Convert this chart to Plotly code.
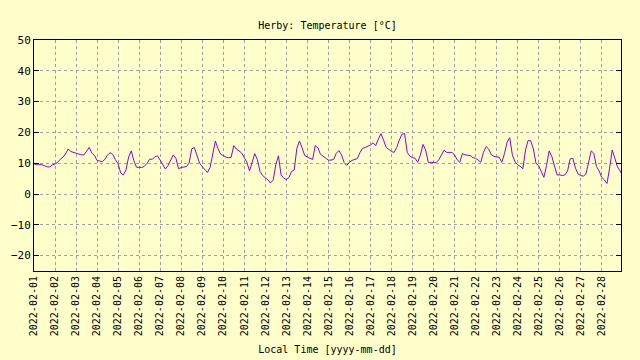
import pandas as pd
import plotly.graph_objects as go

title_text = "Herby: Temperature [°C]"
x_title = "Local Time [yyyy-mm-dd]"
start_time = "2022-02-01 00:00"
step = "3h"

# 3-hourly readings (00,03,...,21h) per day
temps = [
    9.8, 9.5, 9.5, 9.5, 9.2, 8.8, 8.8, 9.5,        # 02-01
    9.7, 10.3, 11.3, 11.9, 13.0, 14.6, 13.8, 13.5,  # 02-02
    13.2, 13.1, 12.7, 12.7, 14.0, 15.1, 13.3, 12.5, # 02-03
    10.9, 10.8, 10.5, 11.3, 12.7, 13.4, 12.8, 11.1, # 02-04
    9.8, 6.8, 6.2, 7.8, 12.0, 14.0, 10.8, 8.7,      # 02-05
    8.6, 8.6, 9.0, 9.9, 11.3, 11.3, 12.0, 12.4,     # 02-06
    11.0, 9.5, 8.1, 9.2, 11.2, 12.7, 11.6, 8.2,     # 02-07
    8.6, 8.7, 8.9, 10.0, 14.6, 15.1, 12.2, 10.0,    # 02-08
    8.9, 7.8, 7.0, 8.6, 12.9, 17.2, 14.8, 12.9,     # 02-09
    12.5, 12.0, 11.8, 11.9, 15.7, 14.6, 14.0, 13.3, # 02-10
    11.8, 10.3, 7.5, 10.0, 13.1, 11.1, 7.3, 6.0,    # 02-11
    5.4, 4.6, 3.6, 4.5, 9.5, 12.4, 6.2, 5.2,        # 02-12
    4.6, 5.4, 7.3, 7.8, 14.8, 17.2, 15.0, 12.5,     # 02-13
    12.0, 11.6, 11.2, 15.7, 15.0, 12.9, 12.2, 11.6, # 02-14
    11.0, 11.0, 11.2, 13.2, 14.1, 12.7, 10.2, 9.3,  # 02-15
    10.3, 10.9, 11.3, 11.5, 13.4, 14.8, 15.1, 15.5, # 02-16
    15.9, 16.6, 15.7, 17.8, 19.6, 17.5, 15.1, 14.5, # 02-17
    13.8, 13.5, 15.1, 17.5, 19.4, 19.6, 13.5, 12.3, # 02-18
    11.8, 11.6, 10.3, 12.7, 16.1, 14.3, 10.3, 10.2, # 02-19
    10.2, 10.2, 11.1, 12.9, 14.2, 13.5, 13.5, 13.5, # 02-20
    12.7, 11.1, 10.3, 13.1, 12.7, 12.5, 12.5, 11.8, # 02-21
    11.6, 11.0, 10.3, 13.5, 15.4, 14.6, 12.7, 12.2, # 02-22
    12.0, 11.9, 10.3, 13.1, 16.8, 18.3, 12.7, 10.5, # 02-23
    9.5, 9.0, 8.2, 14.3, 17.4, 17.3, 14.6, 9.9,     # 02-24
    9.2, 7.3, 5.4, 9.2, 14.0, 12.2, 8.9, 6.2,       # 02-25
    6.2, 6.0, 6.2, 7.5, 11.4, 11.6, 8.4, 6.5,       # 02-26
    6.0, 5.8, 6.5, 10.5, 14.0, 13.2, 8.9, 7.5,      # 02-27
    5.4, 4.6, 3.4, 8.4, 14.3, 11.6, 8.8, 7.5,       # 02-28
]
last_time = "2022-02-28 22:00"
last_temp = 6.8

y_ticks = [-20, -10, 0, 10, 20, 30, 40, 50]
y_range = [-25, 50]
x_range = ["2022-02-01 00:00", "2022-02-28 22:00"]

times = list(pd.date_range(start_time, periods=len(temps), freq=step)) + [pd.Timestamp(last_time)]
values = temps + [last_temp]

bg = "#ffffcc"
grid = "#a0a0a0"

fig = go.Figure()
fig.add_trace(go.Scatter(x=times, y=values, mode="lines",
                         line=dict(color="#9400d3", width=1), showlegend=False))

fig.update_layout(
    width=640, height=360,
    paper_bgcolor=bg, plot_bgcolor=bg,
    margin=dict(l=34, r=19, t=40, b=89),
    font=dict(family="DejaVu Sans Mono", size=10, color="black"),
    title=dict(text=title_text, x=0.5, xref="paper", xanchor="center",
               y=1 - 25 / 360, yref="container", yanchor="middle",
               font=dict(size=10)),
)

fig.update_xaxes(
    range=x_range, type="date", automargin=False,
    tick0="2022-02-01", dtick=86400000, tickformat="%Y-%m-%d", tickangle=-90,
    showgrid=True, gridcolor=grid, griddash="3px,3px", gridwidth=1,
    showline=True, linecolor="black", linewidth=1, mirror=True,
    ticks="", zeroline=False,
    title=dict(text=x_title, standoff=10, font=dict(size=10)),
    tickfont=dict(size=10),
)
fig.update_yaxes(
    range=y_range, tickvals=y_ticks, automargin=False,
    showgrid=True, gridcolor=grid, griddash="3px,3px", gridwidth=1,
    showline=True, linecolor="black", linewidth=1, mirror="ticks",
    ticks="inside", ticklen=5, tickcolor="black",
    zeroline=False, tickfont=dict(size=11),
)

fig.write_html(
    "out.html",
    config={"displayModeBar": False},
    post_script="document.body.style.margin='0';document.body.style.background='#ffffcc';",
)
